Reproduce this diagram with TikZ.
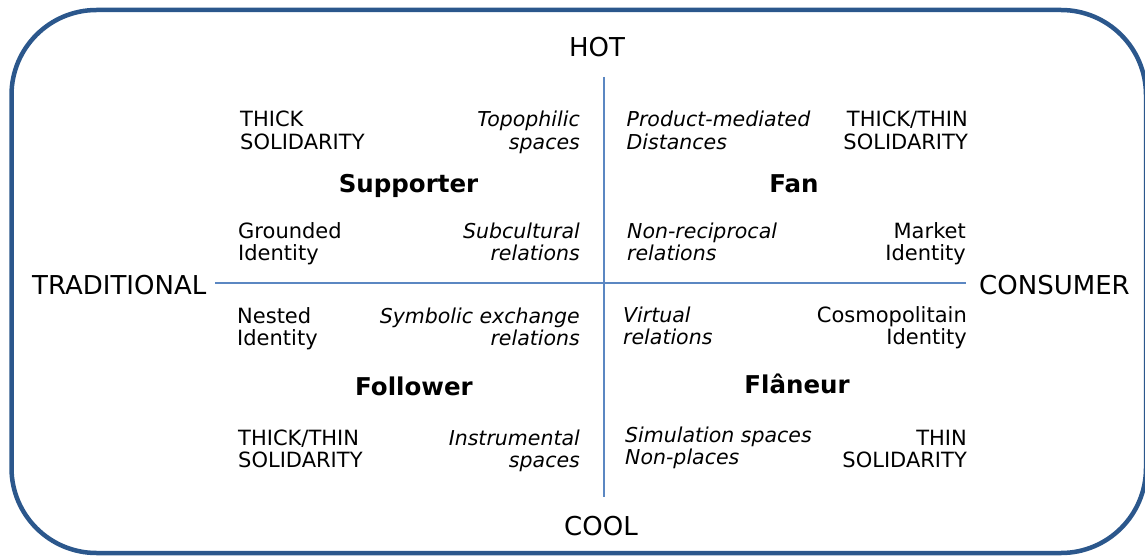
\documentclass[tikz,border=0pt]{standalone}
\usepackage{fontspec}
\setmainfont{DejaVu Sans}
\definecolor{frameblue}{HTML}{2B578C}
\definecolor{axisblue}{HTML}{5B87C2}
\begin{document}
\begin{tikzpicture}[x=1pt,y=-1pt,
  frame/.style={draw=frameblue, line width=4.5pt, rounded corners=85pt},
  axis/.style={draw=axisblue, line width=2pt},
  axlabel/.style={font=\fontsize{26}{29}\selectfont, inner sep=0pt},
  lleft/.style={font=\fontsize{21}{22.5}\selectfont, inner sep=0pt, align=left, anchor=base west},
  lright/.style={font=\fontsize{21}{22.5}\selectfont, inner sep=0pt, align=right, anchor=base east},
  ileft/.style={lleft, font=\fontsize{20.5}{22.5}\selectfont\itshape},
  iright/.style={lright, font=\fontsize{20.5}{22.5}\selectfont\itshape},
  role/.style={font=\fontsize{24.5}{28}\selectfont\bfseries, inner sep=0pt, anchor=base},
]
\useasboundingbox (0,0) rectangle (1145,556);

% outer frame
\draw[frame] (11.5,10) rectangle (1146,553);

% axes
\coordinate (W) at (215,282.5);
\coordinate (E) at (966,282.5);
\coordinate (N) at (603.5,77);
\coordinate (S) at (603.5,497);
\draw[axis] (W) -- (E);
\draw[axis] (N) -- (S);

% axis labels
\node[axlabel, anchor=base] (hot) at (597,57) {HOT};
\node[axlabel, anchor=base] (cool) at (601,535) {COOL};
\node[axlabel, anchor=base west] (trad) at (32,294) {TRADITIONAL};
\node[axlabel, anchor=base west] (cons) at (979,294) {CONSUMER};

% two-line labels are placed by the baseline of their second line

% upper left: Supporter
\node[lleft] (tl1) at (240,149.5) {THICK\\SOLIDARITY};
\node[iright] (tl2) at (580,149.5) {Topophilic\\spaces};
\node[role] (supporter) at (408.5,193) {Supporter};
\node[lleft] (tl3) at (238,260.5) {Grounded\\Identity};
\node[iright] (tl4) at (580,260.5) {Subcultural\\relations};

% upper right: Fan
\node[ileft] (tr1) at (626.5,149.5) {Product-mediated\\Distances};
\node[lright] (tr2) at (968,149.5) {THICK/THIN\\SOLIDARITY};
\node[role] (fan) at (794,193) {Fan};
\node[ileft] (tr3) at (627,260.5) {Non-reciprocal\\relations};
\node[lright] (tr4) at (966,260.5) {Market\\Identity};

% lower left: Follower
\node[lleft] (bl1) at (237,345.5) {Nested\\Identity};
\node[iright] (bl2) at (580,345.5) {Symbolic exchange\\relations};
\node[role] (follower) at (414,395) {Follower};
\node[lleft] (bl3) at (238,467.5) {THICK/THIN\\SOLIDARITY};
\node[iright] (bl4) at (580,467.5) {Instrumental\\spaces};

% lower right: Flaneur
\node[ileft] (br1) at (623,344.5) {Virtual\\relations};
\node[lright] (br2) at (967,344.5) {Cosmopolitain\\Identity};
\node[role] (flaneur) at (797,393) {Flâneur};
\node[ileft] (br3) at (625,464.5) {Simulation spaces\\Non-places};
\node[lright] (br4) at (967,467.5) {THIN\\SOLIDARITY};
\end{tikzpicture}
\end{document}
